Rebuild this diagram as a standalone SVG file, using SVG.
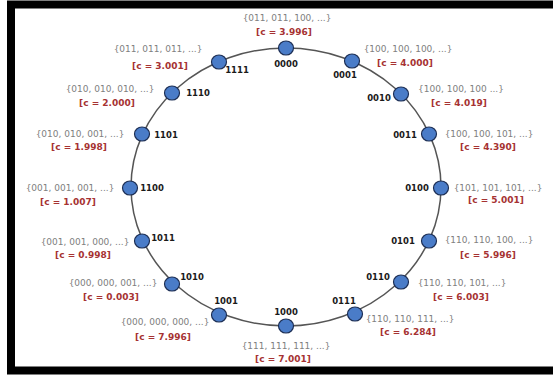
<svg xmlns="http://www.w3.org/2000/svg" width="553" height="376" viewBox="0 0 553 376">
<style>
.set{font-family:"DejaVu Sans","Liberation Sans",sans-serif;font-size:9px;fill:#808080;text-anchor:middle}
.c{font-family:"DejaVu Sans","Liberation Sans",sans-serif;font-size:9px;font-weight:bold;fill:#a63232;text-anchor:middle}
.lb{font-family:"DejaVu Sans","Liberation Sans",sans-serif;font-size:8.5px;font-weight:bold;fill:#1a1a1a;text-anchor:middle}
.n{fill:#4a7cc8;stroke:#1d2f55;stroke-width:1.2}
</style>
<rect x="0" y="0" width="553" height="376" fill="#ffffff"/>
<rect x="11" y="4.5" width="560" height="366" fill="#ffffff" stroke="#000000" stroke-width="8"/>
<g id="connectors">
<ellipse cx="286" cy="187" rx="155" ry="139" fill="none" stroke="#555555" stroke-width="1.5"/>
</g>
<g id="n0000"><ellipse class="n" cx="286" cy="48" rx="7.5" ry="7"/><text class="lb" x="286" y="67">0000</text><text class="set" x="287" y="21">{011, 011, 100, ...}</text><text class="c" x="284" y="35">[c = 3.996]</text></g>
<g id="n0001"><ellipse class="n" cx="352" cy="61" rx="7.5" ry="7"/><text class="lb" x="345" y="78">0001</text><text class="set" x="408" y="52">{100, 100, 100, ...}</text><text class="c" x="405" y="66">[c = 4.000]</text></g>
<g id="n0010"><ellipse class="n" cx="401" cy="94" rx="7.5" ry="7"/><text class="lb" x="379" y="101">0010</text><text class="set" x="461" y="92">{100, 100, 100 ...}</text><text class="c" x="459" y="106">[c = 4.019]</text></g>
<g id="n0011"><ellipse class="n" cx="429" cy="134" rx="7.5" ry="7"/><text class="lb" x="405" y="138">0011</text><text class="set" x="489" y="137">{100, 100, 101, ...}</text><text class="c" x="488" y="150">[c = 4.390]</text></g>
<g id="n0100"><ellipse class="n" cx="441" cy="188" rx="7.5" ry="7"/><text class="lb" x="417" y="191">0100</text><text class="set" x="498" y="191">{101, 101, 101, ...}</text><text class="c" x="496" y="203">[c = 5.001]</text></g>
<g id="n0101"><ellipse class="n" cx="429" cy="241" rx="7.5" ry="7"/><text class="lb" x="403" y="244">0101</text><text class="set" x="489" y="243">{110, 110, 100, ...}</text><text class="c" x="488" y="258">[c = 5.996]</text></g>
<g id="n0110"><ellipse class="n" cx="401" cy="282" rx="7.5" ry="7"/><text class="lb" x="378" y="280">0110</text><text class="set" x="462" y="286">{110, 110, 101, ...}</text><text class="c" x="461" y="300">[c = 6.003]</text></g>
<g id="n0111"><ellipse class="n" cx="355" cy="314" rx="7.5" ry="7"/><text class="lb" x="344" y="304">0111</text><text class="set" x="410" y="322">{110, 110, 111, ...}</text><text class="c" x="408" y="335">[c = 6.284]</text></g>
<g id="n1000"><ellipse class="n" cx="286" cy="326" rx="7.5" ry="7"/><text class="lb" x="286" y="315">1000</text><text class="set" x="286" y="349">{111, 111, 111, ...}</text><text class="c" x="283" y="362">[c = 7.001]</text></g>
<g id="n1001"><ellipse class="n" cx="219" cy="315" rx="7.5" ry="7"/><text class="lb" x="226" y="304">1001</text><text class="set" x="165" y="325">{000, 000, 000, ...}</text><text class="c" x="163" y="340">[c = 7.996]</text></g>
<g id="n1010"><ellipse class="n" cx="172" cy="284" rx="7.5" ry="7"/><text class="lb" x="192" y="280">1010</text><text class="set" x="113" y="286">{000, 000, 001, ...}</text><text class="c" x="111" y="300">[c = 0.003]</text></g>
<g id="n1011"><ellipse class="n" cx="142" cy="241" rx="7.5" ry="7"/><text class="lb" x="163" y="241">1011</text><text class="set" x="85" y="245">{001, 001, 000, ...}</text><text class="c" x="83" y="258">[c = 0.998]</text></g>
<g id="n1100"><ellipse class="n" cx="130" cy="188" rx="7.5" ry="7"/><text class="lb" x="152" y="191">1100</text><text class="set" x="70" y="191">{001, 001, 001, ...}</text><text class="c" x="68" y="205">[c = 1.007]</text></g>
<g id="n1101"><ellipse class="n" cx="142" cy="134" rx="7.5" ry="7"/><text class="lb" x="166" y="138">1101</text><text class="set" x="80" y="137">{010, 010, 001, ...}</text><text class="c" x="79" y="150">[c = 1.998]</text></g>
<g id="n1110"><ellipse class="n" cx="172" cy="93" rx="7.5" ry="7"/><text class="lb" x="198" y="96">1110</text><text class="set" x="110" y="92">{010, 010, 010, ...}</text><text class="c" x="107" y="106">[c = 2.000]</text></g>
<g id="n1111"><ellipse class="n" cx="219" cy="62" rx="7.5" ry="7"/><text class="lb" x="237" y="73">1111</text><text class="set" x="158" y="52">{011, 011, 011, ...}</text><text class="c" x="160" y="69">[c = 3.001]</text></g>
</svg>
